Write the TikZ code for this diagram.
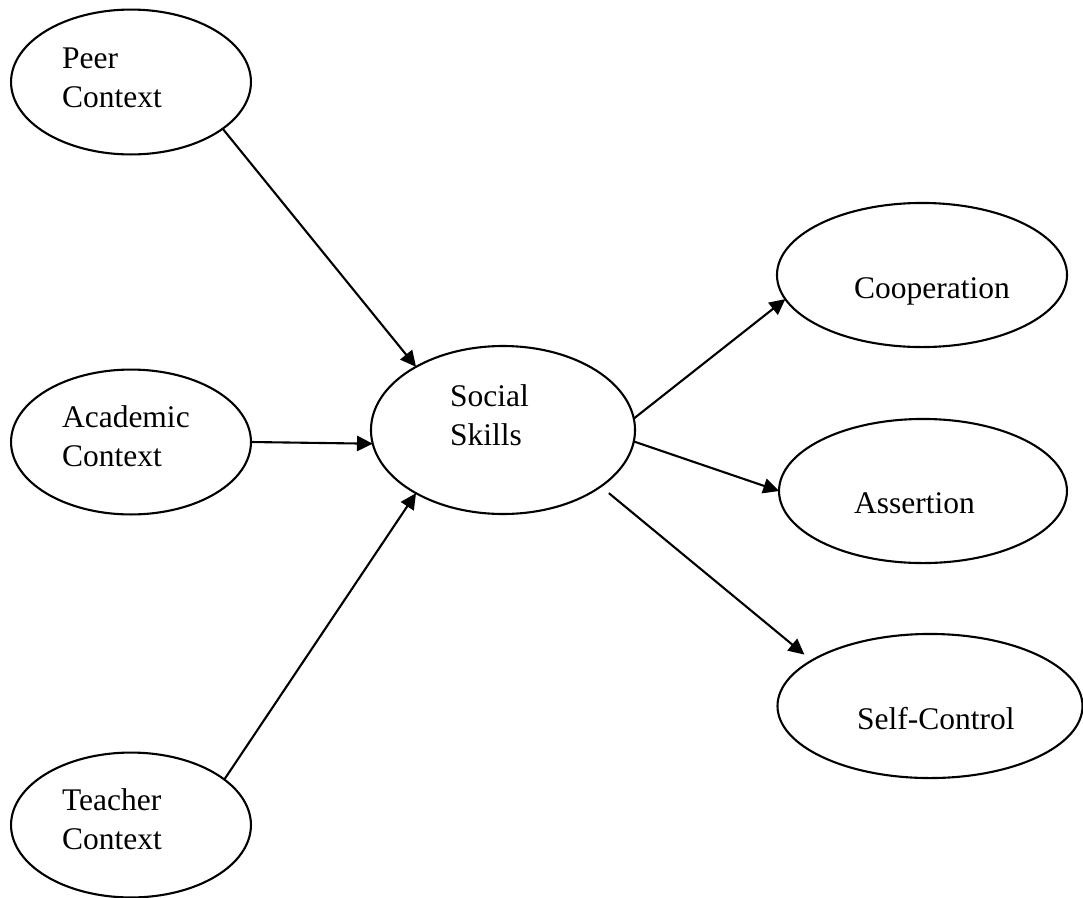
\documentclass[tikz,border=0pt]{standalone}
\usepackage{fontspec}
\setmainfont{Liberation Serif}
\usetikzlibrary{arrows.meta,shapes.geometric}

\begin{document}
\begin{tikzpicture}[x=0.381pt,y=-0.381pt,line width=0.8pt]

\useasboundingbox (0,0) rectangle (1083,897);

\tikzstyle{blob}=[draw,shape=ellipse,inner sep=0pt,outer sep=0pt,anchor=center];
\tikzstyle{lbl}=[inner sep=0pt,anchor=base west,align=left,font=\fontsize{12pt}{14.7pt}\selectfont];

% Draw the context and skill ellipses
\node[blob,minimum width=91.4pt,minimum height=55.2pt] (peer) at (131,82) {};
\node[blob,minimum width=91.4pt,minimum height=55.2pt] (acad) at (131,442) {};
\node[blob,minimum width=91.4pt,minimum height=55.2pt] (teach) at (131,825) {};
\node[blob,minimum width=100.6pt,minimum height=64pt] (soc) at (503,430) {};
\node[blob,minimum width=110.5pt,minimum height=54.9pt] (coop) at (922,275) {};
\node[blob,minimum width=109.7pt,minimum height=54.9pt] (asrt) at (923,491) {};
\node[blob,minimum width=116.2pt,minimum height=54.9pt] (selfc) at (930,706) {};

% Labels, left aligned as in the original (base = last line)
\node[lbl] (peerlbl) at (61,107) {Peer\\Context};
\node[lbl] (acadlbl) at (61,466) {Academic\\Context};
\node[lbl] (teachlbl) at (61,849) {Teacher\\Context};
\node[lbl] (soclbl) at (449,445) {Social\\Skills};
\node[lbl] (cooplbl) at (853,298) {Cooperation};
\node[lbl] (asrtlbl) at (853,513) {Assertion};
\node[lbl] (selfclbl) at (856,729) {Self-Control};

\tikzset{every edge/.append style = {-{Triangle[length=6pt,width=5.8pt]}}};

% Paths between contexts, skills and subscales
\path
  (peer.-27) edge (soc.144)
  (acad.east) edge (soc.186)
  (teach.26) edge (soc.216)
  (soc.5) edge (coop.190)
  (soc.-5) edge (asrt.west)
  (soc.-30) edge[shorten <=4pt,shorten >=3.6pt] (selfc.159);

\end{tikzpicture}
\end{document}
